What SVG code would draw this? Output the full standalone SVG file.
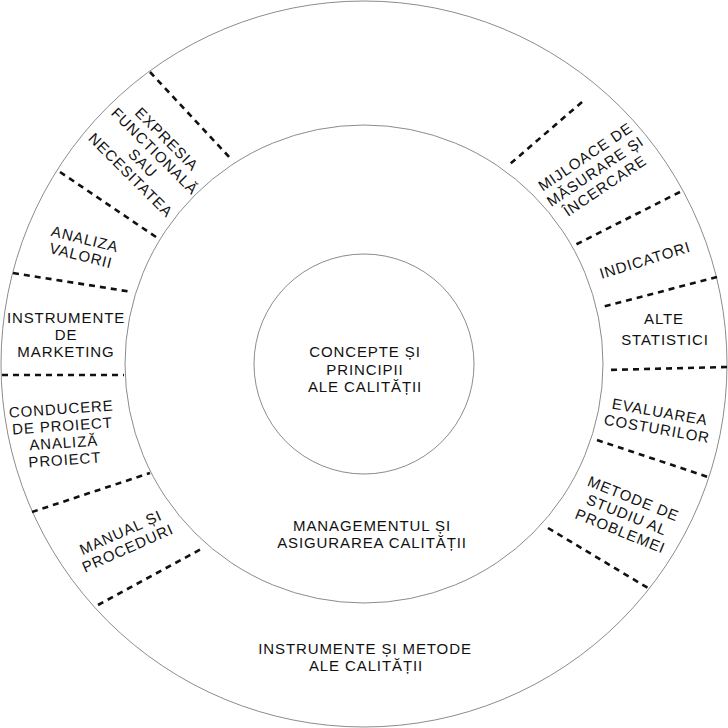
<svg xmlns="http://www.w3.org/2000/svg" width="728" height="728" viewBox="0 0 728 728">
<style>
.ring{fill:none;stroke:#8c8c8c;stroke-width:1}
.div{stroke:#111;stroke-width:2.6;stroke-dasharray:6 5;fill:none}
text{font-family:"Liberation Sans",Arial,sans-serif;font-size:15px;letter-spacing:0.9px;text-anchor:middle;fill:#111}
</style>
<rect width="728" height="728" fill="#fff"/>
<g id="outer-ring"><circle class="ring" cx="364" cy="364" r="363"/></g>
<g id="middle-ring"><circle class="ring" cx="364" cy="364" r="239"/></g>
<g id="inner-ring"><circle class="ring" cx="364" cy="364" r="110"/></g>

<g id="connectors">
<line class="div" x1="150" y1="72" x2="231" y2="159"/>
<line class="div" x1="60" y1="172" x2="156" y2="237"/>
<line class="div" x1="13" y1="273" x2="132" y2="292"/>
<line class="div" x1="2" y1="375" x2="124" y2="375"/>
<line class="div" x1="32" y1="512" x2="150" y2="473"/>
<line class="div" x1="98" y1="605" x2="203" y2="548"/>
<line class="div" x1="582" y1="102" x2="510" y2="164"/>
<line class="div" x1="680" y1="192" x2="575" y2="245"/>
<line class="div" x1="717" y1="277" x2="602" y2="307"/>
<line class="div" x1="727" y1="367" x2="607" y2="370"/>
<line class="div" x1="597" y1="440" x2="708" y2="477"/>
<line class="div" x1="548" y1="528" x2="648" y2="588"/>
</g>

<g id="concepte">
<text x="365" y="357">CONCEPTE ȘI</text>
<text x="365" y="374.5">PRINCIPII</text>
<text x="365" y="392">ALE CALITĂȚII</text>
</g>
<g id="management">
<text x="372" y="530.5">MANAGEMENTUL ȘI</text>
<text x="372" y="547.5">ASIGURAREA CALITĂȚII</text>
</g>
<g id="instrumente-metode">
<text x="365" y="654">INSTRUMENTE ȘI METODE</text>
<text x="366" y="671">ALE CALITĂȚII</text>
</g>

<g id="expresia" transform="translate(149 157) rotate(45)">
<text y="-20">EXPRESIA</text>
<text y="-3">FUNCTIONALĂ</text>
<text y="14">SAU</text>
<text y="31">NECESITATEA</text>
</g>
<g id="analiza" transform="translate(83 247) rotate(14)">
<text y="-3">ANALIZA</text>
<text y="14">VALORII</text>
</g>
<g id="marketing">
<text x="66" y="323">INSTRUMENTE</text>
<text x="66" y="340">DE</text>
<text x="66" y="357">MARKETING</text>
</g>
<g id="conducere" transform="translate(63 434) rotate(-4)">
<text y="-20">CONDUCERE</text>
<text y="-3">DE PROIECT</text>
<text y="14">ANALIZĂ</text>
<text y="31">PROIECT</text>
</g>
<g id="manual" transform="translate(124 540) rotate(-24)">
<text y="-3">MANUAL ȘI</text>
<text y="14">PROCEDURI</text>
</g>
<g id="mijloace" transform="translate(595 171) rotate(-34)">
<text y="-12">MIJLOACE DE</text>
<text y="5.5">MĂSURARE ȘI</text>
<text y="23">ÎNCERCARE</text>
</g>
<g id="indicatori" transform="translate(645 260) rotate(-17)">
<text y="5.4">INDICATORI</text>
</g>
<g id="alte">
<text x="664" y="324">ALTE</text>
<text x="665" y="345">STATISTICI</text>
</g>
<g id="evaluarea" transform="translate(658.5 420) rotate(10)">
<text y="-3">EVALUAREA</text>
<text y="14">COSTURILOR</text>
</g>
<g id="metode" transform="translate(627 514.5) rotate(22)">
<text y="-12">METODE DE</text>
<text y="5.5">STUDIU AL</text>
<text y="23">PROBLEMEI</text>
</g>
</svg>
